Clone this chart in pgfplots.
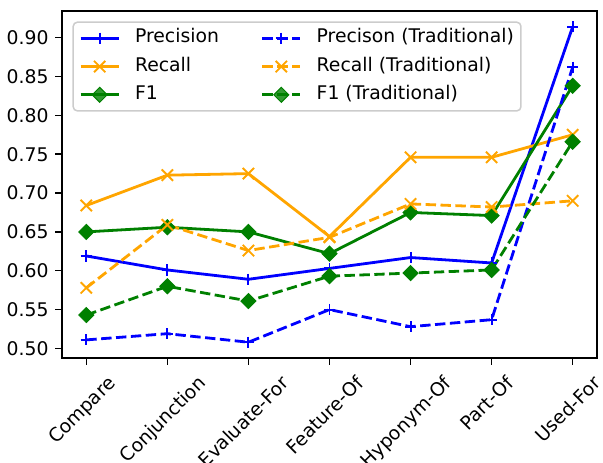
\documentclass[border=0pt]{standalone}
\usepackage{fontspec}
\setmainfont{DejaVu Sans}
\usepackage{pgfplots}
\usepackage{pgfplotstable}
\pgfplotsset{compat=1.18}

\definecolor{cblue}{RGB}{0,0,255}
\definecolor{corange}{RGB}{255,165,0}
\definecolor{cgreen}{RGB}{0,128,0}

% relation types are plotted at x = 0..6
\pgfplotstableread{
x P     R     F     PT    RT    FT
0 0.619 0.684 0.650 0.511 0.578 0.543
1 0.601 0.723 0.656 0.519 0.659 0.580
2 0.589 0.725 0.650 0.508 0.626 0.561
3 0.603 0.644 0.622 0.550 0.643 0.593
4 0.617 0.746 0.675 0.528 0.686 0.597
5 0.610 0.746 0.671 0.537 0.682 0.601
6 0.914 0.775 0.838 0.862 0.690 0.766
}\scores

% rotated tick label, centred on its tick with the top of its box below the axis
\newlength\rl
\newcommand\rotlab[1]{%
  \setbox0\hbox{\strut #1}%
  \rl=\wd0 \advance\rl by \ht0 \advance\rl by \dp0
  \rl=0.25\rl \advance\rl by 8.6pt
  \raisebox{\dimexpr-\rl-(\ht0-\dp0)/2\relax}[0pt][0pt]{\makebox[0pt][c]{\hspace*{-2\rl}\box0}}}

\pgfplotsset{
  prec/.style={cblue, mark=+, mark size=5.6pt, mark options={solid, line width=1.9pt}},
  rec/.style={corange, mark=x, mark size=8pt, mark options={solid, line width=1.9pt}},
  fone/.style={cgreen, mark=square*, mark size=5.3pt, mark options={solid, rotate=45, line width=1pt}},
  trad/.style={dash pattern=on 10.4pt off 4.5pt},
}

\begin{document}
\begin{tikzpicture}
\path[use as bounding box] (-62pt,-104.5pt) rectangle (541pt,358pt);
\begin{axis}[
  at={(0,0)}, anchor=south west,
  scale only axis, width=535pt, height=347pt,
  xmin=-0.3, xmax=6.3, ymin=0.4877, ymax=0.9343,
  axis line style={line width=1.5pt},
  tick align=outside, xtick pos=bottom, ytick pos=left,
  major tick length=6.6pt,
  tick style={line width=1.5pt, black},
  xtick={0,...,6},
  xticklabels={\rotlab{Compare},\rotlab{Conjunction},\rotlab{Evaluate-For},\rotlab{Feature-Of},\rotlab{Hyponym-Of},\rotlab{Part-Of},\rotlab{Used-For}},
  xticklabel style={rotate=45, anchor=center, inner sep=0pt, font=\fontsize{18.8}{22}\selectfont},
  ytick={0.50,0.55,0.60,0.65,0.70,0.75,0.80,0.85,0.90},
  yticklabel style={font=\fontsize{18.8}{22}\selectfont, inner sep=0pt, xshift=-6.6pt},
  /pgf/number format/.cd, fixed, fixed zerofill, precision=2, assume math mode=true,
  /pgfplots/.cd,
  every axis plot/.append style={line width=2.8pt},
  legend columns=2,
  legend cell align=left,
  legend image code/.code={\draw[mark repeat=2, mark phase=2, #1] plot coordinates {(0pt,0pt) (19pt,0pt) (38pt,0pt)};},
  legend style={at={(0,1)}, anchor=north west, xshift=10.5pt, yshift=-10.5pt,
    draw=black!20, line width=1.5pt, rounded corners=4pt, fill=white, fill opacity=0.8, text opacity=1,
    font=\fontsize{18.8}{22}\selectfont, inner xsep=6pt, inner ysep=6pt,
    row sep=8.3pt,
    nodes={inner sep=1pt, text height=13.5pt, text depth=4.5pt},
    /tikz/every odd column/.append style={column sep=14pt},
    /tikz/every even column/.append style={column sep=41pt}},
]
% legend, filled column by column
\addlegendimage{prec, line width=2.8pt}
\addlegendentry{Precision}
\addlegendimage{prec, trad, line width=2.8pt}
\addlegendentry{Precison (Traditional)}
\addlegendimage{rec, line width=2.8pt}
\addlegendentry{Recall}
\addlegendimage{rec, trad, line width=2.8pt}
\addlegendentry{Recall (Traditional)}
\addlegendimage{fone, line width=2.8pt}
\addlegendentry{F1}
\addlegendimage{fone, trad, line width=2.8pt}
\addlegendentry{F1 (Traditional)}
% series
\addplot[prec, forget plot] table[x=x, y=P] {\scores};
\addplot[rec, forget plot] table[x=x, y=R] {\scores};
\addplot[fone, forget plot] table[x=x, y=F] {\scores};
\addplot[prec, trad, forget plot] table[x=x, y=PT] {\scores};
\addplot[rec, trad, forget plot] table[x=x, y=RT] {\scores};
\addplot[fone, trad, forget plot] table[x=x, y=FT] {\scores};
\end{axis}
\end{tikzpicture}
\end{document}
